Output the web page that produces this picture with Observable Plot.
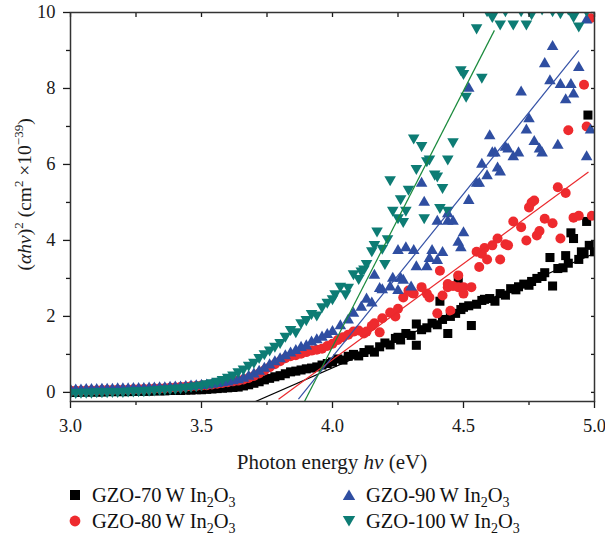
<!DOCTYPE html>
<html><head><meta charset="utf-8">
<script src="https://cdn.jsdelivr.net/npm/d3@7"></script>
<script src="https://cdn.jsdelivr.net/npm/@observablehq/plot@0.6"></script>
<style>
body{margin:0;background:#fff;}
#wrap{position:relative;width:605px;height:544px;font-family:"Liberation Serif","Times New Roman",serif;background:#fff;}
.leg{position:absolute;font-size:20.5px;line-height:24px;color:#111;display:flex;align-items:center;white-space:nowrap;}
.leg svg{margin-right:9px;flex:none;}
.leg span sub{font-size:14px;vertical-align:-5px;line-height:0;}
</style></head><body><div id="wrap"></div><script>
// ---- data (photon energy in eV, (alpha h nu)^2 in 1e-39 cm^-2) ----
const lowE = [3.00,3.02,3.04,3.06,3.08,3.10,3.12,3.14,3.16,3.18,3.20,3.22,3.24,3.26,3.28,3.30,3.32,3.34,3.36,3.38,3.40,3.42,3.44,3.46,3.48,3.50,3.52,3.54,3.56,3.58,3.60,3.62,3.64,3.66,3.68,3.70,3.72,3.74,3.76,3.78,3.80,3.82,3.84,3.86,3.88,3.90,3.92,3.94,3.96,3.98];
const low70 = [0.00,0.00,0.01,0.01,0.01,0.01,0.01,0.02,0.02,0.02,0.02,0.02,0.03,0.03,0.03,0.03,0.04,0.04,0.04,0.05,0.05,0.05,0.06,0.06,0.07,0.07,0.08,0.09,0.10,0.11,0.12,0.13,0.14,0.17,0.20,0.24,0.28,0.33,0.37,0.41,0.44,0.49,0.54,0.56,0.59,0.62,0.64,0.67,0.72,0.76];
const low80 = [0.04,0.04,0.04,0.05,0.05,0.05,0.06,0.06,0.06,0.07,0.07,0.07,0.08,0.08,0.09,0.09,0.10,0.10,0.11,0.12,0.13,0.14,0.15,0.16,0.17,0.18,0.19,0.21,0.23,0.25,0.27,0.29,0.31,0.34,0.38,0.43,0.50,0.58,0.66,0.74,0.82,0.90,0.95,0.98,1.02,1.06,1.10,1.12,1.15,1.22];
const low90 = [0.06,0.06,0.06,0.07,0.07,0.07,0.08,0.08,0.08,0.09,0.09,0.09,0.10,0.10,0.10,0.11,0.11,0.12,0.12,0.13,0.14,0.14,0.15,0.16,0.17,0.18,0.19,0.21,0.23,0.25,0.27,0.30,0.33,0.37,0.42,0.48,0.55,0.63,0.72,0.80,0.88,0.96,1.03,1.10,1.18,1.22,1.32,1.38,1.45,1.52];
const low100 = [0.00,0.00,0.01,0.01,0.01,0.02,0.02,0.02,0.03,0.03,0.03,0.04,0.04,0.05,0.05,0.06,0.07,0.08,0.09,0.10,0.11,0.12,0.14,0.16,0.18,0.20,0.23,0.26,0.30,0.34,0.40,0.46,0.55,0.62,0.72,0.80,0.92,1.02,1.12,1.22,1.32,1.48,1.66,1.60,1.84,1.92,2.08,2.04,2.26,2.38];

const hiE70 = [4.00,4.02,4.04,4.06,4.08,4.10,4.12,4.14,4.16,4.18,4.20,4.22,4.24,4.25,4.26,4.28,4.30,4.32,4.32,4.34,4.36,4.38,4.40,4.41,4.42,4.44,4.45,4.47,4.48,4.49,4.50,4.52,4.53,4.55,4.57,4.58,4.60,4.62,4.64,4.66,4.68,4.70,4.71,4.73,4.75,4.76,4.78,4.80,4.81,4.83,4.84,4.86,4.88,4.89,4.90,4.91,4.92,4.94,4.95,4.96,4.97,4.975,4.98,5.00];
const hiA70 = [0.80,0.88,0.85,0.95,1.00,0.96,1.05,1.12,1.06,1.20,1.30,1.25,1.42,1.45,1.38,1.55,1.50,1.24,1.80,1.65,1.70,1.82,1.78,2.40,1.92,1.55,2.00,2.08,3.00,2.18,2.24,2.28,1.76,2.32,2.42,2.45,2.47,2.40,2.60,2.56,2.73,2.70,2.78,2.85,2.82,2.92,3.00,3.05,3.15,3.55,2.80,3.26,3.28,3.60,3.40,4.20,4.05,3.50,3.70,3.65,4.50,7.30,3.87,3.70];

const hiE80 = [4.00,4.02,4.04,4.06,4.08,4.10,4.12,4.13,4.15,4.16,4.18,4.19,4.22,4.24,4.25,4.27,4.29,4.30,4.31,4.34,4.36,4.37,4.40,4.41,4.42,4.44,4.44,4.45,4.46,4.48,4.48,4.50,4.50,4.53,4.55,4.56,4.57,4.58,4.59,4.61,4.63,4.64,4.66,4.67,4.69,4.72,4.74,4.75,4.76,4.77,4.78,4.79,4.81,4.84,4.86,4.87,4.89,4.90,4.92,4.94,4.96,4.97,4.985,4.99];
const hiA80 = [1.28,1.38,1.45,1.52,1.60,1.63,1.55,1.60,1.75,1.82,1.58,1.95,2.10,2.00,2.20,2.50,2.68,2.63,2.60,2.77,2.60,2.50,2.08,3.20,2.55,2.85,2.77,2.15,2.80,3.08,2.77,2.60,2.77,2.77,3.70,3.30,3.65,3.80,3.50,3.87,4.05,3.50,3.90,3.87,4.50,4.35,4.00,4.87,5.00,5.05,4.13,4.25,4.57,4.45,5.40,4.05,5.25,6.90,4.60,4.65,8.10,7.00,9.85,4.65];

const hiE90 = [4.00,4.03,4.06,4.08,4.11,4.13,4.15,4.16,4.18,4.19,4.22,4.23,4.25,4.25,4.26,4.27,4.28,4.30,4.31,4.32,4.34,4.35,4.36,4.37,4.38,4.40,4.40,4.42,4.44,4.44,4.46,4.48,4.49,4.50,4.52,4.52,4.55,4.56,4.57,4.59,4.60,4.61,4.62,4.63,4.64,4.66,4.67,4.69,4.71,4.72,4.74,4.75,4.77,4.79,4.80,4.81,4.83,4.84,4.86,4.87,4.89,4.91,4.92,4.94,4.97,4.97,4.985];
const hiA90 = [1.60,1.75,1.90,2.08,2.24,2.45,2.35,3.08,2.73,2.70,2.77,3.00,2.68,3.73,3.00,2.95,3.80,2.77,3.73,3.30,5.50,5.00,3.30,3.52,3.73,3.47,4.50,3.68,4.50,4.70,4.50,3.95,3.80,4.20,5.05,8.00,5.50,5.50,6.00,5.70,6.75,6.30,6.30,5.90,5.80,6.45,6.40,6.20,6.30,7.90,6.90,7.20,6.60,6.40,6.30,8.65,8.20,9.10,6.50,8.10,7.70,8.10,7.85,8.55,6.20,9.80,6.90];

const hiE100 = [4.00,4.01,4.03,4.05,4.06,4.08,4.10,4.11,4.12,4.13,4.15,4.16,4.17,4.19,4.20,4.21,4.22,4.23,4.25,4.26,4.27,4.28,4.29,4.31,4.32,4.34,4.35,4.36,4.37,4.39,4.40,4.41,4.42,4.44,4.44,4.46,4.49,4.50,4.51,4.55,4.57,4.59,4.61,4.62,4.64,4.66,4.69,4.72,4.74,4.76,4.80,4.84,4.87,4.90,4.92,4.94,4.97,5.00];
const hiA100 = [2.47,2.60,2.80,2.60,2.77,3.13,3.00,3.20,3.25,3.40,3.73,3.90,4.25,3.80,3.40,4.05,5.60,4.80,4.60,5.10,4.50,4.80,5.35,6.70,5.90,6.50,4.60,6.10,6.15,5.75,5.70,4.87,5.40,6.15,4.80,6.60,8.50,8.40,7.80,9.60,8.30,10.05,9.90,10.10,9.70,10.05,9.70,10.05,9.70,9.97,10.10,10.05,10.00,10.10,9.90,9.65,10.05,10.10];

// linear fits (Tauc extrapolation): start and end of each drawn segment
const fitSeries = ["70", "80", "90", "100"];
const fitX1 = [3.706, 3.794, 3.870, 3.893];
const fitY1 = [-0.24, -0.18, -0.18, -0.24];
const fitX2 = [5.000, 4.977, 4.940, 4.618];
const fitY2 = [3.66, 5.80, 9.00, 9.53];

const legendLabels = ["GZO-70", "GZO-80", "GZO-90", "GZO-100"];
const xMajor = [3.0, 3.5, 4.0, 4.5, 5.0];
const xMinor = [3.25, 3.75, 4.25, 4.75];
const yMajor = [0, 2, 4, 6, 8, 10];
const yMinor = [1, 3, 5, 7, 9];

// ---- styles ----
const markColor = {"70": "#000000", "80": "#ee2a2e", "90": "#2f4ea1", "100": "#0d7c74"};
const lineColor = {"70": "#000000", "80": "#ea2a2e", "90": "#3552a6", "100": "#1a8a3c"};

const pts = (xs, ys) => xs.map((x, i) => ({x, y: ys[i]}));
const d70 = pts(lowE, low70).concat(pts(hiE70, hiA70));
const d80 = pts(lowE, low80).concat(pts(hiE80, hiA80));
const d90 = pts(lowE, low90).concat(pts(hiE90, hiA90));
const d100 = pts(lowE, low100).concat(pts(hiE100, hiA100));
const fits = fitSeries.map((s, i) => ({s, x1: fitX1[i], y1: fitY1[i], x2: fitX2[i], y2: fitY2[i]}));

const W = 605, H = 478, mL = 70, mR = 11, mT = 12, mB = 77;
const blank = () => "";

const chart = Plot.plot({
  width: W, height: H,
  marginLeft: mL, marginRight: mR, marginTop: mT, marginBottom: mB,
  x: {domain: [3, 5]},
  y: {domain: [-0.24, 10]},
  style: {fontFamily: "'Liberation Serif', 'Times New Roman', serif", fontSize: "18.5px", color: "#1a1a1a", background: "#fff"},
  marks: [
    Plot.dot(d70, {x: "x", y: "y", symbol: "square", r: 5.1, fill: markColor["70"], clip: true}),
    Plot.dot(d80, {x: "x", y: "y", symbol: "circle", r: 5, fill: markColor["80"], clip: true}),
    Plot.dot(d90, {x: "x", y: "y", symbol: "triangle", r: 4.3, fill: markColor["90"], clip: true}),
    Plot.dot(d100, {x: "x", y: "y", symbol: "triangle", r: 4.3, rotate: 180, fill: markColor["100"], clip: true}),
    Plot.link(fits, {x1: "x1", y1: "y1", x2: "x2", y2: "y2", stroke: d => lineColor[d.s], strokeWidth: 1.2, clip: true}),
    Plot.axisY({ticks: yMajor, tickSize: 7, tickPadding: 8, tickFormat: d => String(d), label: null, strokeWidth: 1.3}),
    Plot.axisY({ticks: yMinor, tickSize: 4, tickFormat: blank, label: null, strokeWidth: 1.3}),
    Plot.axisY({anchor: "right", ticks: yMajor.concat(yMinor), tickSize: -4, tickFormat: blank, label: null, strokeWidth: 1.3}),
    Plot.axisX({ticks: xMajor, tickSize: 7, tickPadding: 10, tickFormat: d3.format(".1f"), label: null, strokeWidth: 1.3}),
    Plot.axisX({ticks: xMinor, tickSize: 4, tickFormat: blank, label: null, strokeWidth: 1.3}),
    Plot.axisX({anchor: "top", ticks: xMajor.concat(xMinor), tickSize: -4, tickFormat: blank, label: null, strokeWidth: 1.3}),
    Plot.frame({stroke: "#333", strokeWidth: 1.5})
  ]
});

const wrap = document.getElementById("wrap");
wrap.appendChild(chart);
const svg = d3.select(chart);
const xs = chart.scale("x"), ys = chart.scale("y");

// x axis title
const xt = svg.append("text")
  .attr("x", (xs.apply(3) + xs.apply(5)) / 2)
  .attr("y", H - 9)
  .attr("text-anchor", "middle")
  .attr("fill", "#1a1a1a")
  .style("font-size", "21px");
xt.append("tspan").text("Photon energy ");
xt.append("tspan").style("font-style", "italic").text("hν");
xt.append("tspan").text(" (eV)");

// y axis title
const yt = svg.append("text")
  .attr("transform", `translate(31,${ys.apply(5.2)}) rotate(-90)`)
  .attr("text-anchor", "middle")
  .attr("fill", "#1a1a1a")
  .style("font-size", "19.5px");
yt.append("tspan").text("(");
yt.append("tspan").style("font-style", "italic").text("αhν");
yt.append("tspan").text(")");
yt.append("tspan").attr("dy", -8).style("font-size", "13px").text("2");
yt.append("tspan").attr("dy", 8).text(" (cm");
yt.append("tspan").attr("dy", -8).style("font-size", "13px").text("2");
yt.append("tspan").attr("dy", 8).text(" ×10");
yt.append("tspan").attr("dy", -8).style("font-size", "13px").text("−39");
yt.append("tspan").attr("dy", 8).text(")");

// legend (HTML, below the SVG)
const legSym = {
  "70": '<rect x="3" y="3" width="10" height="10" fill="' + markColor["70"] + '"/>',
  "80": '<circle cx="8" cy="8" r="5.4" fill="' + markColor["80"] + '"/>',
  "90": '<path d="M8,2.5L14.2,13L1.8,13Z" fill="' + markColor["90"] + '"/>',
  "100": '<path d="M8,13.5L14.2,3L1.8,3Z" fill="' + markColor["100"] + '"/>'
};
const legPos = [[67, 483], [67, 509], [341, 483], [341, 509]];
fitSeries.forEach((s, i) => {
  const d = document.createElement("div");
  d.className = "leg";
  d.style.left = legPos[i][0] + "px";
  d.style.top = legPos[i][1] + "px";
  d.innerHTML = '<svg width="16" height="16">' + legSym[s] + '</svg>' +
    '<span>' + legendLabels[i] + '\u2009W In<sub>2</sub>O<sub>3</sub></span>';
  wrap.appendChild(d);
});
</script></body></html>
